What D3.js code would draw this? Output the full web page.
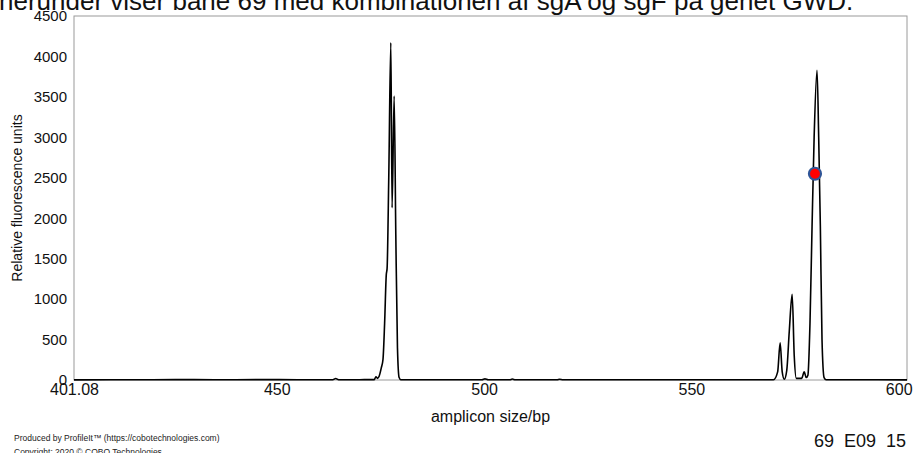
<!DOCTYPE html>
<html>
<head>
<meta charset="utf-8">
<script src="https://cdn.jsdelivr.net/npm/d3@7"></script>
<style>
  body { margin: 0; background: #fff; }
  svg { display: block; font-family: "Liberation Sans", Arial, Helvetica, sans-serif; }
</style>
</head>
<body>
<script>
// Trace: [size in bp, RFU]
const trace = [
  [401.08, 2], [410, 4], [420, 3], [430, 5], [440, 3], [448, 5], [455, 3],
  [463.5, 4], [464.2, 18], [464.9, 3], [470, 4],
  [473.5, 5], [473.9, 40], [474.3, 20], [474.7, 50], [475.2, 150], [475.6, 250],
  [476.0, 700], [476.4, 1300], [476.6, 1380], [477.0, 2500], [477.5, 4170],
  [477.8, 2130], [478.3, 3510], [478.7, 1800], [479.1, 400], [479.5, 30], [479.9, 3],
  [490, 4], [499.5, 3], [500.2, 14], [501, 3], [506.2, 3], [506.8, 12], [507.5, 3],
  [517.6, 3], [518.2, 10], [519, 3], [530, 4], [545, 3], [560, 4],
  [569.8, 3], [570.8, 100], [571.4, 460], [571.9, 100], [572.4, 10],
  [573.0, 120], [573.6, 600], [574.3, 1060], [574.8, 300], [575.3, 20],
  [576.6, 20], [577.2, 100], [577.7, 30], [578.1, 60], [578.6, 700],
  [579.1, 1900], [579.6, 3000], [580.3, 3830], [580.7, 3000], [581.1, 1900],
  [581.5, 500], [582.0, 30], [582.5, 3], [590, 4], [602, 2]
];

// Marked point on the right peak
const marker = [579.8, 2550];

const yTicks = [0, 500, 1000, 1500, 2000, 2500, 3000, 3500, 4000, 4500];
const xTicks = [401.08, 450, 500, 550, 600];
const xTickLabels = ['401.08', '450', '500', '550', '600'];

const width = 914, height = 453;
const margin = { top: 16, right: 7, bottom: 73, left: 74 };

const svg = d3.select('body').append('svg')
  .attr('width', width)
  .attr('height', height);

// Heading, cut off at the top edge as in the source slide
svg.append('text')
  .attr('x', -1)
  .attr('y', 10)
  .attr('font-size', 26)
  .attr('fill', '#111')
  .text('herunder viser bane 69 med kombinationen af sgA og sgF på genet GWD.');

const x = d3.scaleLinear()
  .domain([401.08, 602])
  .range([margin.left, width - margin.right]);

const y = d3.scaleLinear()
  .domain([0, 4500])
  .range([height - margin.bottom, margin.top]);

// Plot frame
svg.append('rect')
  .attr('x', x.range()[0])
  .attr('y', y(4500))
  .attr('width', x.range()[1] - x.range()[0])
  .attr('height', y(0) - y(4500))
  .attr('fill', 'none')
  .attr('stroke', '#9a9a9a')
  .attr('stroke-width', 1);

// Axes (labels only, no tick marks)
const yAxis = svg.append('g')
  .attr('transform', `translate(${margin.left},0)`)
  .call(d3.axisLeft(y).tickValues(yTicks).tickSize(0).tickPadding(7)
    .tickFormat(d3.format('d')));
yAxis.select('.domain').remove();
yAxis.selectAll('text')
  .attr('font-size', 15)
  .attr('font-family', null)
  .attr('fill', '#111');

const xAxis = svg.append('g')
  .attr('transform', `translate(0,${y(0)})`)
  .call(d3.axisBottom(x).tickValues(xTicks).tickSize(0).tickPadding(4)
    .tickFormat((d, i) => xTickLabels[i]));
xAxis.select('.domain').remove();
xAxis.selectAll('text')
  .attr('font-size', 16)
  .attr('font-family', null)
  .attr('fill', '#111');

// Trace
const line = d3.line()
  .x(d => x(d[0]))
  .y(d => y(d[1]))
  .curve(d3.curveMonotoneX);

svg.append('path')
  .datum(trace)
  .attr('fill', 'none')
  .attr('stroke', '#000')
  .attr('stroke-width', 1.6)
  .attr('stroke-linejoin', 'round')
  .attr('d', line);

// Marker
svg.append('circle')
  .attr('cx', x(marker[0]))
  .attr('cy', y(marker[1]))
  .attr('r', 6)
  .attr('fill', '#ff0000')
  .attr('stroke', '#2f5597')
  .attr('stroke-width', 2.2);

// Axis titles
svg.append('text')
  .attr('x', (x.range()[0] + x.range()[1]) / 2)
  .attr('y', 422)
  .attr('text-anchor', 'middle')
  .attr('font-size', 16)
  .attr('fill', '#111')
  .text('amplicon size/bp');

svg.append('text')
  .attr('transform', `translate(22,${(y(0) + y(4500)) / 2}) rotate(-90)`)
  .attr('text-anchor', 'middle')
  .attr('font-size', 14)
  .attr('fill', '#111')
  .text('Relative fluorescence units');

// Footer
svg.append('text')
  .attr('x', 14)
  .attr('y', 441)
  .attr('font-size', 8.5)
  .attr('fill', '#222')
  .text('Produced by ProfileIt™ (https://cobotechnologies.com)');

svg.append('text')
  .attr('x', 14)
  .attr('y', 455)
  .attr('font-size', 8.5)
  .attr('fill', '#222')
  .text('Copyright: 2020 © COBO Technologies');

svg.append('text')
  .attr('x', 906)
  .attr('y', 447)
  .attr('text-anchor', 'end')
  .attr('font-size', 18)
  .attr('fill', '#111')
  .style('white-space', 'pre')
  .text('69  E09  15');
</script>
</body>
</html>
